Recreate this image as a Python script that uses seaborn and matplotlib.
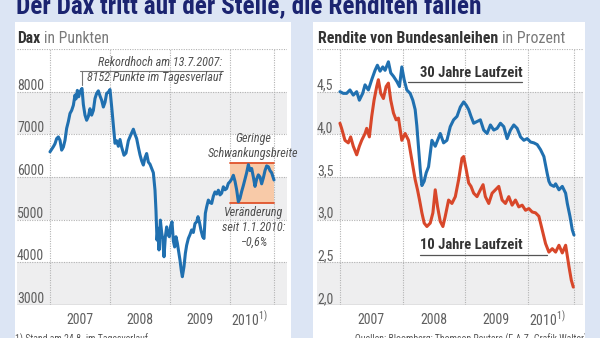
import matplotlib
matplotlib.use("Agg")
import matplotlib.pyplot as plt
import matplotlib.transforms as mtransforms
from matplotlib import font_manager as fm
from matplotlib.patches import Rectangle
import pandas as pd
import seaborn as sns

# ---------------------------------------------------------------- data
# DAX, Monate seit Anfang 2007 / Punkte
dax_monat = [0, 0.33, 0.67, 1, 1.33, 1.67, 2, 2.33, 2.67, 3, 3.33, 3.67, 4, 4.33, 4.67, 5, 5.2,
             5.47, 5.73, 6, 6.4, 6.67, 7, 7.33, 7.67, 8, 8.33, 8.67, 9, 9.33, 9.67, 10, 10.33,
             10.67, 11, 11.33, 11.67, 12, 12.33, 12.67, 13, 13.33, 13.67, 14, 14.33, 14.8, 15.2,
             15.67, 16.13, 16.67, 17, 17.33, 17.67, 18, 18.33, 18.67, 19, 19.33, 19.67, 20, 20.33,
             20.67, 21, 21.2, 21.4, 21.6, 21.8, 22.07, 22.33, 22.53, 22.8, 23.07, 23.33, 23.6,
             23.87, 24.13, 24.4, 24.67, 24.93, 25.2, 25.47, 25.73, 26, 26.27, 26.47, 26.8, 27.07,
             27.33, 27.67, 28, 28.33, 28.67, 29, 29.33, 29.6, 29.87, 30.2, 30.53, 30.8, 31.07,
             31.33, 31.67, 32, 32.33, 32.67, 33, 33.33, 33.67, 34, 34.33, 34.67, 35, 35.33, 35.67,
             36, 36.33, 36.67, 37, 37.33, 37.67, 38, 38.33, 38.67, 39, 39.33, 39.67, 40, 40.33,
             40.67, 41, 41.33, 41.67, 42, 42.33, 42.67, 43, 43.33, 43.67, 44, 44.33, 44.8]
dax_punkte = [6590, 6650, 6710, 6780, 6900, 6940, 6860, 6630, 6700, 6860, 7140, 7300, 7490, 7560,
              7680, 7920, 7830, 8030, 7880, 8000, 8075, 7700, 7450, 7330, 7420, 7600, 7450, 7560,
              7840, 7960, 8020, 7900, 7800, 7640, 7750, 7960, 7990, 8050, 7650, 7200, 6790, 6850,
              6720, 6880, 6700, 6510, 6560, 6850, 6980, 7120, 7000, 6900, 6700, 6520, 6380, 6280,
              6450, 6550, 6350, 6300, 6200, 6100, 5690, 5200, 4520, 4800, 4290, 4990, 4700, 4550,
              4130, 4600, 4830, 4650, 4600, 4850, 4950, 4500, 4360, 4600, 4450, 4250, 4050, 3800,
              3663, 3900, 4210, 4400, 4560, 4650, 4760, 4700, 4910, 4950, 5070, 4950, 4750, 4600,
              4560, 5150, 5300, 5460, 5400, 5380, 5550, 5650, 5600, 5690, 5580, 5620, 5770, 5700,
              5730, 5850, 5890, 5950, 6040, 5900, 5700, 5420, 5500, 5660, 5800, 5950, 6100, 6290,
              6150, 6200, 6000, 5780, 5950, 6050, 6000, 5840, 5980, 6150, 6260, 6240, 6150, 6100,
              5930]

# Rendite 30-jaehriger Bundesanleihen
r30_monat = [0, 0.64, 1.28, 1.92, 2.56, 3.21, 3.72, 4.36, 4.81, 5.45, 6.09, 6.73, 7.18, 7.69,
             8.21, 8.65, 9.29, 9.74, 10.26, 10.9, 11.41, 11.86, 12.31, 12.82, 13.46, 13.97, 14.42,
             14.74, 15.06, 15.38, 15.71, 16.15, 16.54, 16.99, 17.63, 18.27, 18.72, 19.23, 19.87,
             20.51, 21.15, 21.79, 22.44, 23.08, 23.72, 24.23, 24.68, 25.13, 25.64, 26.28, 26.92,
             27.56, 28.21, 28.85, 29.49, 30.13, 30.77, 31.41, 32.05, 32.69, 33.33, 33.97, 34.62,
             35.26, 35.9, 36.54, 37.18, 37.82, 38.46, 39.1, 39.74, 40.06, 40.38, 41.03, 41.35,
             41.99, 42.63, 43.27, 43.59, 44.1, 44.55, 44.87]
r30_wert = [4.50, 4.48, 4.48, 4.52, 4.46, 4.50, 4.40, 4.48, 4.58, 4.52, 4.64, 4.75, 4.81, 4.74,
            4.79, 4.75, 4.85, 4.72, 4.68, 4.62, 4.56, 4.79, 4.64, 4.52, 4.48, 4.40, 4.29, 4.10,
            3.85, 3.60, 3.40, 3.45, 3.55, 3.62, 3.93, 3.86, 3.93, 4.01, 3.90, 3.93, 4.09, 4.17,
            4.21, 4.32, 4.38, 4.34, 4.29, 4.21, 4.13, 4.15, 4.17, 4.05, 4.01, 4.11, 4.05, 4.07,
            4.13, 4.09, 3.95, 4.05, 4.11, 4.07, 3.97, 3.93, 3.95, 3.91, 3.90, 3.88, 3.82, 3.74,
            3.54, 3.45, 3.41, 3.39, 3.42, 3.35, 3.39, 3.31, 3.19, 3.04, 2.88, 2.82]

# Rendite 10-jaehriger Bundesanleihen
r10_monat = [0, 0.32, 0.96, 1.6, 2.05, 2.56, 3.21, 3.72, 4.17, 4.81, 5.13, 5.64, 6.09, 6.54,
             7.05, 7.37, 7.82, 8.33, 8.85, 9.29, 9.74, 10.26, 10.77, 11.22, 11.86, 12.5, 13.14,
             13.78, 14.42, 14.87, 15.26, 15.71, 16.15, 16.67, 17.31, 17.82, 18.27, 18.72, 19.23,
             19.74, 20.19, 20.83, 21.47, 22.12, 22.76, 23.4, 23.72, 24.23, 24.68, 25.13, 25.64,
             26.28, 26.92, 27.44, 27.88, 28.53, 29.17, 29.81, 30.45, 31.09, 31.73, 32.37, 33.01,
             33.65, 34.29, 34.94, 35.58, 36.22, 36.86, 37.5, 38.14, 38.78, 39.42, 40.06, 40.71,
             41.35, 41.99, 42.63, 43.27, 43.91, 44.36, 44.74]
r10_wert = [4.13, 4.07, 3.93, 3.90, 3.97, 3.86, 3.76, 3.86, 3.93, 4.01, 4.07, 3.97, 4.21, 4.40,
            4.56, 4.64, 4.48, 4.42, 4.56, 4.60, 4.40, 4.25, 4.17, 4.19, 3.93, 4.01, 3.93, 3.70,
            3.47, 3.35, 3.23, 3.08, 2.96, 2.92, 2.96, 3.08, 3.35, 3.15, 2.98, 2.92, 3.04, 3.23,
            3.19, 3.27, 3.47, 3.72, 3.74, 3.58, 3.43, 3.39, 3.31, 3.27, 3.35, 3.41, 3.27, 3.19,
            3.31, 3.35, 3.39, 3.23, 3.19, 3.27, 3.17, 3.23, 3.15, 3.17, 3.11, 3.13, 3.09, 3.08,
            3.04, 2.88, 2.72, 2.62, 2.66, 2.62, 2.70, 2.61, 2.70, 2.45, 2.29, 2.21]

jahre = ["2007", "2008", "2009", r"2010$^{1)}$"]
jahr_mitte = [6, 18, 30, 39.8]
jahr_grenzen = [0, 12, 24, 36]

dax_ticks = [3000, 4000, 5000, 6000, 7000, 8000]
dax_baender = [(3000, 4000), (5000, 6000), (7000, 8000)]
rendite_ticks = [2.0, 2.5, 3.0, 3.5, 4.0, 4.5]
rendite_baender = [(2.0, 2.5), (3.0, 3.5), (4.0, 4.5)]

rekord_monat, rekord_punkte = 6.4, 8152
spanne_2010 = (5396, 6319)   # Tief und Hoch seit 1.1.2010


# ---------------------------------------------------------------- style
def installed(name):
    try:
        fm.findfont(fm.FontProperties(family=name), fallback_to_default=False)
        return True
    except ValueError:
        return False


narrow = [f for f in ["Liberation Sans Narrow", "Roboto Condensed", "Open Sans Condensed",
                      "Lato"] if installed(f)]
MAIN = narrow[0] if narrow else "Liberation Sans"

sns.set_theme(style="white")
plt.rcParams["font.family"] = [MAIN, "Liberation Sans", "DejaVu Sans"]
plt.rcParams["mathtext.fontset"] = "custom"
plt.rcParams["mathtext.rm"] = MAIN

BG = "#dce5f4"
NAVY = "#1b2470"
GRID = "#b3b3b3"
BAND = "#eeeeef"
TXT = "#5f5f5f"
BLUE = "#2070b0"
RED = "#d8472a"

W, H = 600, 338
fig = plt.figure(figsize=(W / 100, H / 100), dpi=100)
fig.patch.set_facecolor(BG)
renderer = fig.canvas.get_renderer()


def fx(px):
    return px / W


def fy(py):
    return 1 - py / H


def fit(t, width_px):
    """scale a text so that it is width_px wide"""
    w = t.get_window_extent(renderer).width
    t.set_fontsize(t.get_fontsize() * width_px / w)


# white panels
panel_l = Rectangle((fx(15), 0), fx(291) - fx(15), fy(22), transform=fig.transFigure,
                    fc="white", ec="none", zorder=0)
panel_r = Rectangle((fx(313), 0), fx(585) - fx(313), fy(22), transform=fig.transFigure,
                    fc="white", ec="none", zorder=0)
fig.add_artist(panel_l)
fig.add_artist(panel_r)

# title
title = fig.text(fx(16), fy(13), "Der Dax tritt auf der Stelle, die Renditen fallen",
                 color=NAVY, fontsize=15, fontweight="bold", va="baseline", ha="left")
fit(title, 466)


def heading(px, bold, rest, width):
    t1 = fig.text(fx(px), fy(43), bold, fontsize=10.2, fontweight="bold", color="#333333",
                  va="baseline", ha="left")
    fit(t1, width)
    b = t1.get_window_extent(renderer)
    fig.text(fx(px) + (b.width + 4) / W, fy(43), rest, fontsize=t1.get_fontsize(),
             color="#7a7a7a", va="baseline", ha="left")


heading(17, "Dax", "in Punkten", 23)
heading(318, "Rendite von Bundesanleihen", "in Prozent", 180)


def frame(ax, ticks, bands, top, fmt, x_end):
    ax.set_facecolor("none")
    for s in ax.spines.values():
        s.set_visible(False)
    ax.set_xticks([])
    ax.set_yticks([])
    ax.set_xlabel("")
    ax.set_ylabel("")
    for lo, hi in bands:
        ax.axhspan(lo, hi, color=BAND, lw=0, zorder=0)
    for v in ticks[1:] + [top]:
        ax.axhline(v, color=GRID, lw=0.8, ls=(0, (1, 1.2)), zorder=1)
    ax.axhline(ticks[0], color="#a8a8a8", lw=1.0, zorder=1)
    for v in jahr_grenzen + [x_end]:
        ax.axvline(v, color=GRID, lw=0.8, ls=(0, (1, 1.2)), zorder=1)
    off = mtransforms.ScaledTranslation(0, 2 / 100, fig.dpi_scale_trans)
    for v in ticks:
        ax.text(0.0, v, fmt(v), transform=ax.get_yaxis_transform() + off, fontsize=10,
                color=TXT, ha="left", va="baseline", zorder=3)
    for lab, m in zip(jahre, jahr_mitte):
        ax.text(m, -15 / 256, lab, transform=ax.get_xaxis_transform(), fontsize=10,
                color=TXT, ha="center", va="center")


ANN = "#505050"
ASZ = 8.6

# ---------------------------------------------------------------- DAX
ax1 = fig.add_axes([fx(17), fy(305), fx(287) - fx(17), 256 / H])
ax1.set_xlim(-6.6, 47.4)
ax1.set_ylim(3000, 9000)
frame(ax1, dax_ticks, dax_baender, 9000, lambda v: f"{v:d}", dax_monat[-1])

ax1.fill_between([36, dax_monat[-1]], spanne_2010[0], spanne_2010[1], color="#f8caa8",
                 lw=0, zorder=1.5)
for v in spanne_2010:
    ax1.plot([36, dax_monat[-1]], [v, v], color="#e0532b", lw=1.3, zorder=1.6)

dax_df = pd.DataFrame({"monat": dax_monat, "punkte": dax_punkte})
sns.lineplot(data=dax_df, x="monat", y="punkte", ax=ax1, color=BLUE, lw=2.2, sort=False,
             estimator=None, zorder=4)
ax1.set_xlabel("")
ax1.set_ylabel("")

ax1.plot([6.0, 34.6], [8487, 8487], color="#777777", lw=0.8, zorder=3)
ax1.plot([rekord_monat, rekord_monat], [rekord_punkte, 8487], color="#777777", lw=0.8, zorder=3)
t = ax1.text(34.4, 8675, "Rekordhoch am 13.7.2007:", style="italic", fontsize=ASZ, color=ANN,
             ha="right", va="center", zorder=3)
fit(t, 125)
ASZ = t.get_fontsize()
ax1.text(34.4, 8333, f"{rekord_punkte} Punkte im Tagesverlauf", style="italic", fontsize=ASZ,
         color=ANN, ha="right", va="center", zorder=3)
ax1.text(40.6, 6735, "Geringe\nSchwankungsbreite", style="italic", fontsize=ASZ, color=ANN,
         ha="center", va="center", linespacing=1.2, zorder=3)
ax1.text(40.8, 4827, "Veränderung\nseit 1.1.2010:\n\u22120,6%", style="italic", fontsize=ASZ,
         color=ANN, ha="center", va="center", linespacing=1.2, zorder=3)

# ---------------------------------------------------------------- Renditen
ax2 = fig.add_axes([fx(317), fy(305), fx(583) - fx(317), 256 / H])
ax2.set_xlim(-4.4, 46.6)
ax2.set_ylim(2.0, 5.0)
frame(ax2, rendite_ticks, rendite_baender, 5.0, lambda v: f"{v:.1f}".replace(".", ","),
      r30_monat[-1])

r30_df = pd.DataFrame({"monat": r30_monat, "rendite": r30_wert})
r10_df = pd.DataFrame({"monat": r10_monat, "rendite": r10_wert})
sns.lineplot(data=r30_df, x="monat", y="rendite", ax=ax2, color=BLUE, lw=2.2, sort=False,
             estimator=None, zorder=4)
sns.lineplot(data=r10_df, x="monat", y="rendite", ax=ax2, color=RED, lw=2.2, sort=False,
             estimator=None, zorder=4)
ax2.set_xlabel("")
ax2.set_ylabel("")

t30 = ax2.text(15.4, 4.72, "30 Jahre Laufzeit", fontweight="bold", fontsize=9.6,
               color="#333333", ha="left", va="center", zorder=5)
fit(t30, 102)
ax2.plot([13.05, 34.9], [4.614, 4.614], color="#555555", lw=0.9, zorder=5)
ax2.text(15.4, 2.70, "10 Jahre Laufzeit", fontweight="bold", fontsize=t30.get_fontsize(),
         color="#333333", ha="left", va="center", zorder=5)
ax2.plot([15.4, 39.7], [2.586, 2.586], color="#555555", lw=0.9, zorder=5)

# ---------------------------------------------------------------- footnotes
f1 = fig.text(fx(15), fy(342), "1) Stand am 24.8. im Tagesverlauf", fontsize=7.4,
              color="#555555", ha="left", va="baseline")
fit(f1, 132)
q = fig.text(fx(355), fy(342), "Quellen: Bloomberg; Thomson Reuters (F.A.Z.-Grafik Walter)",
             fontsize=f1.get_fontsize(), color="#555555", ha="left", va="baseline")
q.set_clip_path(panel_r)

fig.savefig("out.png", dpi=100, facecolor=BG)
